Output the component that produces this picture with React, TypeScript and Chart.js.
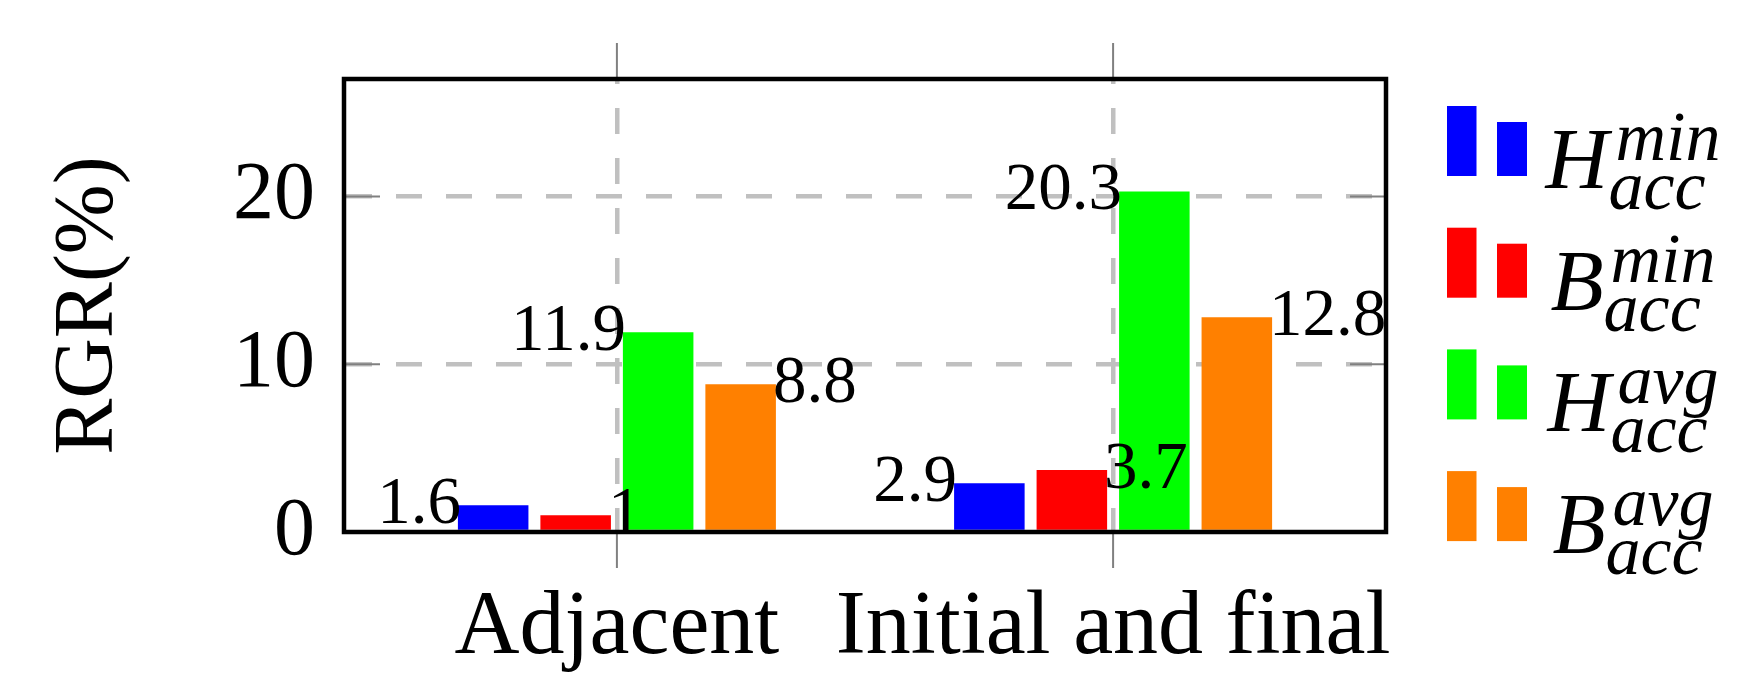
import React, { useEffect, useRef } from "react";
import { Chart, registerables } from "chart.js";

Chart.register(...registerables);

const categories = ["Adjacent", "Initial and final"];
const hMin = [1.6, 2.9];
const bMin = [1, 3.7];
const hAvg = [11.9, 20.3];
const bAvg = [8.8, 12.8];
const seriesValues = [hMin, bMin, hAvg, bAvg];
const seriesColors = ["#0000ff", "#ff0000", "#00ff00", "#ff8000"];
const legendBase = ["H", "B", "H", "B"];
const legendSup = ["min", "min", "avg", "avg"];
const legendSub = ["acc", "acc", "acc", "acc"];
const yTicks = [0, 10, 20];
const yTitle = "RGR(%)";

const FAMILY = '"Liberation Serif", "Times New Roman", serif';

const framePlugin = {
  id: "frameAndTicks",
  afterDatasetsDraw(chart: any) {
    const { ctx, chartArea } = chart;
    const xs = chart.scales.x;
    const ys = chart.scales.y;
    ctx.save();
    ctx.strokeStyle = "#808080";
    ctx.lineWidth = 2;
    ctx.setLineDash([]);
    categories.forEach((_, i) => {
      const px = xs.getPixelForValue(i);
      ctx.beginPath();
      ctx.moveTo(px, chartArea.top - 36);
      ctx.lineTo(px, chartArea.top);
      ctx.moveTo(px, chartArea.bottom);
      ctx.lineTo(px, chartArea.bottom + 36);
      ctx.stroke();
    });
    yTicks.forEach((v) => {
      if (v === 0) return;
      const py = ys.getPixelForValue(v);
      ctx.beginPath();
      ctx.moveTo(chartArea.left, py);
      ctx.lineTo(chartArea.left + 36, py);
      ctx.moveTo(chartArea.right - 36, py);
      ctx.lineTo(chartArea.right, py);
      ctx.stroke();
    });
    ctx.strokeStyle = "#000";
    ctx.lineWidth = 4.5;
    ctx.strokeRect(
      chartArea.left,
      chartArea.top,
      chartArea.right - chartArea.left,
      chartArea.bottom - chartArea.top
    );

    // value labels
    ctx.fillStyle = "#000";
    ctx.font = `67px ${FAMILY}`;
    ctx.textBaseline = "middle";
    chart.data.datasets.forEach((ds: any, di: number) => {
      const meta = chart.getDatasetMeta(di);
      meta.data.forEach((bar: any, i: number) => {
        const v = seriesValues[di][i];
        const left = di % 2 === 0;
        ctx.textAlign = left ? "right" : "left";
        const x = left ? bar.x - bar.width / 2 + 3 : bar.x + bar.width / 2 - 3;
        ctx.fillText(String(v), x, bar.y);
      });
    });
    ctx.restore();
  },
  afterDraw(chart: any) {
    const { ctx, chartArea } = chart;
    ctx.save();
    const x0 = chartArea.right + 61;
    const firstBottom = chartArea.top + 97;
    const rowGap = 121.7;
    const textCenter = chartArea.right + 247;
    seriesColors.forEach((c, i) => {
      const bottom = firstBottom + i * rowGap;
      ctx.fillStyle = c;
      ctx.fillRect(x0, bottom - 70, 29.5, 70);
      ctx.fillRect(x0 + 50, bottom - 54, 30, 54);
      const baseline = bottom + 12;
      ctx.fillStyle = "#000";
      ctx.textBaseline = "alphabetic";
      ctx.textAlign = "left";
      ctx.font = `italic 87px ${FAMILY}`;
      const wBase = ctx.measureText(legendBase[i]).width;
      ctx.font = `italic 70px ${FAMILY}`;
      const wSup = ctx.measureText(legendSup[i]).width;
      const wSub = ctx.measureText(legendSub[i]).width;
      const total = wBase + Math.max(wSub, wSup + 7);
      const start = textCenter - total / 2;
      ctx.font = `italic 87px ${FAMILY}`;
      ctx.fillText(legendBase[i], start, baseline);
      ctx.font = `italic 70px ${FAMILY}`;
      ctx.fillText(legendSup[i], start + wBase + 7, baseline - 28);
      ctx.fillText(legendSub[i], start + wBase, baseline + 21);
    });
    ctx.restore();
  },
};

export default function App() {
  const canvasRef = useRef<HTMLCanvasElement | null>(null);

  useEffect(() => {
    if (!canvasRef.current) return;
    const chart = new Chart(canvasRef.current, {
      type: "bar",
      data: {
        datasets: seriesValues.map((vals, di) => ({
          label: legendBase[di] + legendSub[di] + legendSup[di],
          data: vals.map((v, i) => ({ x: i, y: v })),
          backgroundColor: seriesColors[di],
          borderWidth: 0,
          categoryPercentage: 0.665,
          barPercentage: 0.855,
        })),
      },
      options: {
        animation: false,
        responsive: false,
        maintainAspectRatio: false,
        layout: { padding: { top: 79, right: 356, left: 0, bottom: 0 } },
        plugins: {
          legend: { display: false },
          tooltip: { enabled: false },
        },
        scales: {
          x: {
            type: "linear",
            min: -0.55,
            max: 1.55,
            offset: false,
            afterBuildTicks: (s: any) => {
              s.ticks = categories.map((_, i) => ({ value: i }));
            },
            afterFit: (s: any) => {
              s.height = 167;
              s.paddingLeft = 0;
              s.paddingRight = 0;
            },
            ticks: {
              callback: (v: any) => categories[v] ?? "",
              font: { family: FAMILY, size: 90 },
              color: "#000",
              padding: 43,
              autoSkip: false,
              maxRotation: 0,
              minRotation: 0,
            },
            grid: { color: "#c0c0c0", lineWidth: 4.5, drawTicks: false, offset: false },
            border: { display: false, dash: [26, 24], dashOffset: 21 },
          },
          y: {
            min: 0,
            max: 27,
            afterBuildTicks: (s: any) => {
              s.ticks = yTicks.map((v) => ({ value: v }));
            },
            afterFit: (s: any) => {
              s.width = 344;
              s.paddingTop = 0;
              s.paddingBottom = 0;
            },
            ticks: {
              font: { family: FAMILY, size: 82 },
              color: "#000",
              padding: 29,
            },
            grid: {
              color: (c: any) => (c.tick && c.tick.value === 0 ? "rgba(0,0,0,0)" : "#c0c0c0"),
              lineWidth: 4.5,
              drawTicks: false,
            },
            border: { display: false, dash: [26, 24], dashOffset: -2 },
            title: {
              display: true,
              text: yTitle,
              font: { family: FAMILY, size: 84 },
              color: "#000",
              padding: { top: 40, bottom: 0 },
            },
          },
        },
      } as any,
      plugins: [framePlugin],
    });
    return () => chart.destroy();
  }, []);

  return (
    <div style={{ position: "absolute", left: 0, top: 0, width: 1742, height: 699, background: "#fff" }}>
      <canvas ref={canvasRef} width={1742} height={699} style={{ display: "block" }} />
    </div>
  );
}
